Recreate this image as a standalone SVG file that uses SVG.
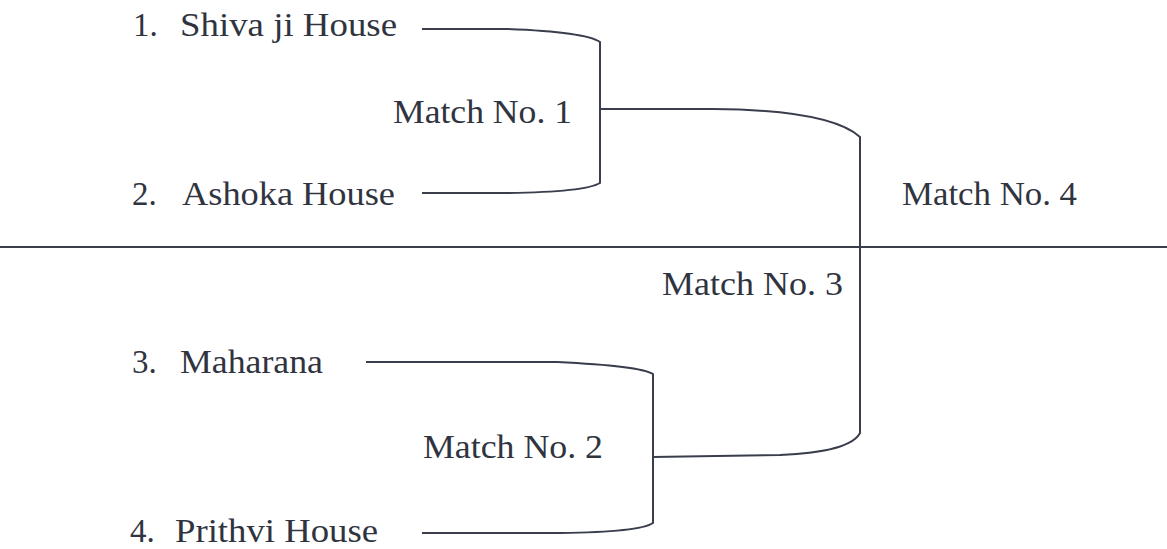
<svg xmlns="http://www.w3.org/2000/svg" width="1167" height="549" viewBox="0 0 1167 549">
<style>
text{font-family:"Liberation Serif","Times New Roman",serif;font-size:33px;fill:#30343f}
.c{fill:none;stroke:#3a3e4c;stroke-width:2}
</style>
<rect width="1167" height="549" fill="#ffffff"/>
<g id="team1"><text x="133" y="36">1.</text><text x="180" y="36" textLength="217" lengthAdjust="spacingAndGlyphs">Shiva ji House</text></g>
<g id="team2"><text x="132" y="205">2.</text><text x="182" y="205" textLength="213" lengthAdjust="spacingAndGlyphs">Ashoka House</text></g>
<g id="team3"><text x="132" y="373">3.</text><text x="180" y="373" textLength="143" lengthAdjust="spacingAndGlyphs">Maharana</text></g>
<g id="team4"><text x="130" y="542">4.</text><text x="175" y="542" textLength="203" lengthAdjust="spacingAndGlyphs">Prithvi House</text></g>
<g id="match1"><text x="393" y="123" textLength="179" lengthAdjust="spacingAndGlyphs">Match No. 1</text></g>
<g id="match2"><text x="423" y="458" textLength="180" lengthAdjust="spacingAndGlyphs">Match No. 2</text></g>
<g id="match3"><text x="662" y="295" textLength="181" lengthAdjust="spacingAndGlyphs">Match No. 3</text></g>
<g id="match4"><text x="902" y="205" textLength="175" lengthAdjust="spacingAndGlyphs">Match No. 4</text></g>
<g id="connectors">
<path class="c" d="M422 29 H507 Q585 32 600 42 V183 Q585 192 507 193 H422"/>
<path class="c" d="M600 109 H713 Q830 110 860 137 V433 Q850 452 780 455 L653 457"/>
<path class="c" d="M366 362 H557 Q640 366 653 374 V523 Q640 532 560 533 H422"/>
<path class="c" d="M0 247 H1167"/>
</g>
</svg>
